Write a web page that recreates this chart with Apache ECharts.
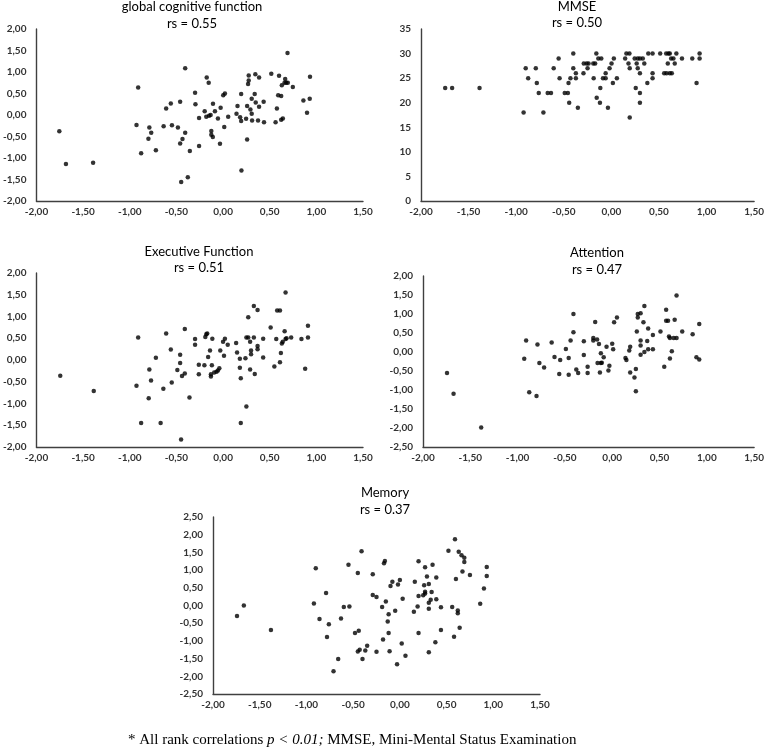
<!DOCTYPE html>
<html><head><meta charset="utf-8">
<script src="https://cdn.jsdelivr.net/npm/echarts@6/dist/echarts.min.js"></script>
<style>html,body{margin:0;padding:0;background:#fff}#c{width:767px;height:751px}</style>
</head><body><div id="c"></div>
<script>
// ---- data (x = shared predictor, y = outcome) ----
const gcfPoints = [[-1.755,-0.38],[-1.684,-1.14],[-1.393,-1.11],[-0.928,-0.23],[-0.91,0.64],[-0.878,-0.89],[-0.79,-0.29],[-0.77,-0.41],[-0.80,-0.55],[-0.72,-0.82],[-0.637,-0.26],[-0.61,0.15],[-0.56,0.27],[-0.548,-0.24],[-0.484,-0.29],[-0.46,0.31],[-0.46,-0.66],[-0.435,-0.56],[-0.406,1.09],[-0.406,-0.41],[-0.449,-1.56],[-0.378,-1.45],[-0.356,-0.84],[-0.30,0.52],[-0.296,0.25],[-0.257,-0.07],[-0.257,-0.72],[-0.197,0.09],[-0.175,0.87],[-0.154,0.75],[-0.18,-0.04],[-0.15,-0.02],[-0.133,0.0],[-0.126,-0.37],[-0.126,-0.46],[-0.11,-0.51],[-0.108,0.26],[-0.087,0.09],[-0.055,-0.08],[-0.033,-0.67],[-0.026,0.17],[0.002,0.46],[0.02,0.50],[0.013,-0.28],[0.055,-0.04],[0.144,0.03],[0.155,0.21],[0.183,-0.05],[0.194,0.49],[0.194,-0.14],[0.197,-1.29],[0.247,-0.09],[0.258,0.21],[0.258,-0.57],[0.268,0.72],[0.275,0.80],[0.275,0.92],[0.293,0.13],[0.307,0.38],[0.307,0.03],[0.311,-0.13],[0.339,0.49],[0.35,0.29],[0.346,0.95],[0.375,-0.13],[0.386,0.87],[0.386,0.19],[0.435,0.31],[0.439,-0.17],[0.517,0.96],[0.563,-0.17],[0.577,0.15],[0.591,0.46],[0.60,0.91],[0.623,0.44],[0.623,-0.11],[0.641,-0.08],[0.63,0.69],[0.659,0.75],[0.666,0.84],[0.677,0.75],[0.691,1.44],[0.694,0.75],[0.748,0.65],[0.861,0.34],[0.90,0.05],[0.932,0.89],[0.929,0.38]];

const mmsePoints = [[-1.746,23],[-1.673,23],[-1.385,23],[-0.922,18],[-0.90,27],[-0.874,25],[-0.794,27],[-0.783,24],[-0.763,22],[-0.714,18],[-0.669,22],[-0.634,22],[-0.606,27],[-0.554,29],[-0.544,25],[-0.49,22],[-0.457,22],[-0.45,24],[-0.443,20],[-0.43,25],[-0.40,30],[-0.40,27],[-0.373,26],[-0.373,25],[-0.352,19],[-0.293,26],[-0.29,28],[-0.26,28],[-0.25,27],[-0.24,28],[-0.19,28],[-0.17,28],[-0.186,25],[-0.158,30],[-0.154,21],[-0.137,29],[-0.12,20],[-0.106,29],[-0.116,23],[-0.088,25],[-0.06,25],[-0.06,26],[-0.036,19],[-0.019,27],[0.002,28],[0.016,24],[0.026,29],[0.058,25],[0.145,29],[0.158,30],[0.19,30],[0.18,28],[0.193,27],[0.193,17],[0.245,29],[0.256,23],[0.266,28],[0.277,27],[0.277,29],[0.30,29],[0.30,26],[0.30,22],[0.30,20],[0.33,29],[0.346,28],[0.378,24],[0.388,30],[0.433,30],[0.433,26],[0.433,25],[0.513,30],[0.555,26],[0.576,30],[0.58,26],[0.593,28],[0.60,30],[0.614,30],[0.614,26],[0.628,29],[0.635,26],[0.652,29],[0.666,28],[0.683,30],[0.742,29],[0.85,29],[0.895,24],[0.927,30],[0.927,29]];

const execPoints = [[-1.745,-0.36],[-1.386,-0.71],[-0.928,-0.59],[-0.91,0.52],[-0.878,-1.45],[-0.797,-0.88],[-0.79,-0.22],[-0.772,-0.47],[-0.72,0.05],[-0.669,-1.45],[-0.64,-0.66],[-0.61,0.61],[-0.56,0.24],[-0.55,-0.52],[-0.49,-0.23],[-0.46,0.12],[-0.46,-0.07],[-0.45,-1.83],[-0.44,-0.37],[-0.41,0.71],[-0.41,-0.31],[-0.36,-0.86],[-0.30,0.48],[-0.30,0.35],[-0.26,-0.11],[-0.26,-0.33],[-0.20,-0.12],[-0.19,0.53],[-0.18,0.59],[-0.17,0.61],[-0.16,0.07],[-0.14,0.22],[-0.13,-0.33],[-0.13,-0.38],[-0.12,-0.12],[-0.115,0.49],[-0.095,-0.29],[-0.07,-0.27],[-0.055,-0.24],[-0.04,-0.19],[-0.03,0.22],[0.0,0.42],[0.01,0.10],[0.02,0.49],[0.05,0.35],[0.14,0.39],[0.15,0.17],[0.18,-0.18],[0.18,0.03],[0.19,-0.42],[0.19,-1.45],[0.24,0.04],[0.25,0.52],[0.25,-1.07],[0.27,0.98],[0.27,0.52],[0.29,0.42],[0.29,-0.22],[0.30,0.22],[0.30,0.13],[0.33,0.52],[0.33,1.24],[0.34,-0.32],[0.37,0.32],[0.37,0.25],[0.37,1.15],[0.43,0.49],[0.43,0.06],[0.51,0.75],[0.55,-0.15],[0.57,0.48],[0.58,1.14],[0.61,1.14],[0.61,-0.05],[0.62,0.16],[0.63,0.38],[0.64,0.42],[0.66,0.66],[0.67,0.48],[0.67,1.55],[0.68,0.50],[0.73,0.52],[0.84,0.48],[0.88,-0.20],[0.91,0.52],[0.91,0.79]];

const attnPoints = [[-1.746,-0.55],[-1.677,-1.10],[-1.385,-1.99],[-0.93,-0.18],[-0.91,0.30],[-0.877,-1.06],[-0.80,-1.16],[-0.79,0.20],[-0.77,-0.29],[-0.72,-0.41],[-0.64,0.25],[-0.61,-0.13],[-0.56,-0.58],[-0.55,-0.21],[-0.49,0.08],[-0.46,-0.60],[-0.46,-0.16],[-0.44,0.30],[-0.41,1.00],[-0.41,0.52],[-0.38,-0.46],[-0.36,-0.55],[-0.30,0.28],[-0.30,-0.08],[-0.26,-0.39],[-0.26,-0.55],[-0.20,0.37],[-0.20,0.30],[-0.18,0.79],[-0.16,0.33],[-0.155,-0.29],[-0.14,0.21],[-0.13,-0.54],[-0.12,-0.29],[-0.12,-0.03],[-0.11,-0.28],[-0.09,-0.14],[-0.06,0.14],[-0.04,-0.49],[-0.03,-0.36],[0.0,0.22],[0.01,0.07],[0.02,0.78],[0.05,0.91],[0.14,-0.16],[0.15,-0.21],[0.18,0.04],[0.19,0.14],[0.19,-0.54],[0.235,-0.67],[0.25,-1.03],[0.25,-0.45],[0.26,0.54],[0.27,0.91],[0.27,1.00],[0.30,1.02],[0.30,0.30],[0.30,0.17],[0.30,-0.07],[0.33,0.78],[0.34,1.21],[0.34,0.00],[0.37,0.29],[0.38,0.62],[0.38,0.07],[0.43,0.45],[0.43,0.07],[0.51,0.54],[0.55,-0.39],[0.57,1.11],[0.57,0.82],[0.59,0.82],[0.60,0.41],[0.61,-0.17],[0.61,0.37],[0.63,0.02],[0.65,0.37],[0.66,0.85],[0.68,0.37],[0.68,1.49],[0.74,0.54],[0.85,0.47],[0.89,-0.14],[0.92,-0.20],[0.92,0.74]];

const memPoints = [[-1.743,-0.30],[-1.67,0.00],[-1.38,-0.69],[-0.92,0.06],[-0.90,1.05],[-0.86,-0.38],[-0.79,0.35],[-0.78,-0.89],[-0.76,-0.53],[-0.71,-1.86],[-0.66,-1.51],[-0.63,-0.37],[-0.60,-0.04],[-0.55,1.15],[-0.54,-0.03],[-0.48,-0.78],[-0.45,0.92],[-0.45,-1.30],[-0.44,-0.71],[-0.43,-1.25],[-0.41,1.53],[-0.40,-1.51],[-0.37,-1.27],[-0.35,-1.14],[-0.29,0.88],[-0.29,0.30],[-0.25,0.24],[-0.25,-1.31],[-0.19,-0.04],[-0.18,-0.96],[-0.17,1.19],[-0.16,1.26],[-0.15,0.11],[-0.13,-0.45],[-0.12,-0.25],[-0.12,-0.78],[-0.11,-1.29],[-0.10,0.55],[-0.08,0.67],[-0.05,-0.15],[-0.03,-1.66],[-0.02,0.59],[0.00,0.72],[0.02,-1.07],[0.03,0.19],[0.06,-1.42],[0.15,-0.18],[0.16,0.67],[0.19,-0.03],[0.20,1.25],[0.20,-0.78],[0.20,0.27],[0.25,0.29],[0.26,0.57],[0.27,0.34],[0.27,1.08],[0.27,0.39],[0.29,0.82],[0.31,-1.32],[0.31,0.61],[0.31,-0.09],[0.31,0.08],[0.33,0.16],[0.34,0.38],[0.35,1.15],[0.39,0.18],[0.38,-1.04],[0.39,0.79],[0.44,-0.05],[0.44,-0.69],[0.52,1.55],[0.56,-0.04],[0.58,-0.88],[0.59,1.87],[0.60,0.75],[0.62,-0.14],[0.62,-0.22],[0.63,1.52],[0.64,-0.63],[0.66,1.42],[0.67,0.96],[0.69,1.35],[0.69,1.23],[0.75,0.86],[0.86,0.05],[0.90,0.48],[0.93,0.83],[0.93,1.09]];

const panelTitles = ['global cognitive function','MMSE','Executive Function','Attention','Memory'];
const panelRs = ['rs = 0.55','rs = 0.50','rs = 0.51','rs = 0.47','rs = 0.37'];
const xRange = [-2, 1.5, 0.5];
const yRanges = [[-2,2,0.5],[0,35,5],[-2,2,0.5],[-2.5,2,0.5],[-2.5,2.5,0.5]];
const footPre = '* All rank correlations ';
const footItal = 'p < 0.01;';
const footPost = ' MMSE, Mini-Mental Status Examination';

// ---- layout ----
const grids = [
  {left:34, top:29, width:329, height:172},
  {left:421, top:29, width:336, height:172},
  {left:33, top:273, width:330, height:174},
  {left:423, top:276, width:334, height:171},
  {left:213, top:517, width:327, height:177}
];
const titlePos = [[192,6,23],[577,6,22],[199,251,267],[597,252,269],[385,492,509]];
const allPoints = [gcfPoints, mmsePoints, execPoints, attnPoints, memPoints];

const font = 'Lato, "Open Sans", sans-serif';
const axisLine = {show:true, onZero:false, lineStyle:{color:'#404040', width:1.4}};
const comma = v => v.toFixed(2).replace('.', ',');

const xAxes = grids.map((g,i)=>({
  type:'value', gridIndex:i, min:xRange[0], max:xRange[1], interval:xRange[2],
  axisLine, axisTick:{show:false}, splitLine:{show:false},
  axisLabel:{formatter:comma, color:'#333', fontSize:10, fontWeight:'bold', fontFamily:font, margin:6}
}));
const yAxes = grids.map((g,i)=>({
  type:'value', gridIndex:i, min:yRanges[i][0], max:yRanges[i][1], interval:yRanges[i][2],
  axisLine, axisTick:{show:false}, splitLine:{show:false},
  axisLabel:{formatter: i===1 ? (v=>String(v)) : comma, color:'#333', fontSize:10, fontWeight:'bold', fontFamily:font, margin:10}
}));
const series = allPoints.map((pts,i)=>({
  type:'scatter', xAxisIndex:i, yAxisIndex:i, data:pts, symbol:'circle', symbolSize:4.5,
  itemStyle:{color:'#000'}, silent:true
}));

const graphics = [];
titlePos.forEach((p,i)=>{
  graphics.push({type:'text', x:p[0], y:p[1]+1, style:{text:panelTitles[i], font:'13px '+font, fill:'#000', textAlign:'center', textVerticalAlign:'middle'}});
  graphics.push({type:'text', x:p[0], y:p[2]+1, style:{text:panelRs[i], font:'13px '+font, fill:'#000', textAlign:'center', textVerticalAlign:'middle'}});
});
graphics.push({type:'text', x:128, y:740, style:{
  text:'{a|'+footPre+'}{i|'+footItal+'}{a|'+footPost+'}',
  textVerticalAlign:'middle',
  rich:{
    a:{fontFamily:'"Liberation Serif", "DejaVu Serif", serif', fontSize:15, fill:'#000', color:'#000'},
    i:{fontFamily:'"Liberation Serif", "DejaVu Serif", serif', fontSize:15, fontStyle:'italic', fill:'#000', color:'#000'}
  }
}});

const chart = echarts.init(document.getElementById('c'), null, {renderer:'canvas'});
chart.setOption({
  animation:false,
  grid: grids.map(g=>Object.assign({containLabel:false}, g)),
  xAxis: xAxes, yAxis: yAxes, series, graphic: graphics
});
</script></body></html>
